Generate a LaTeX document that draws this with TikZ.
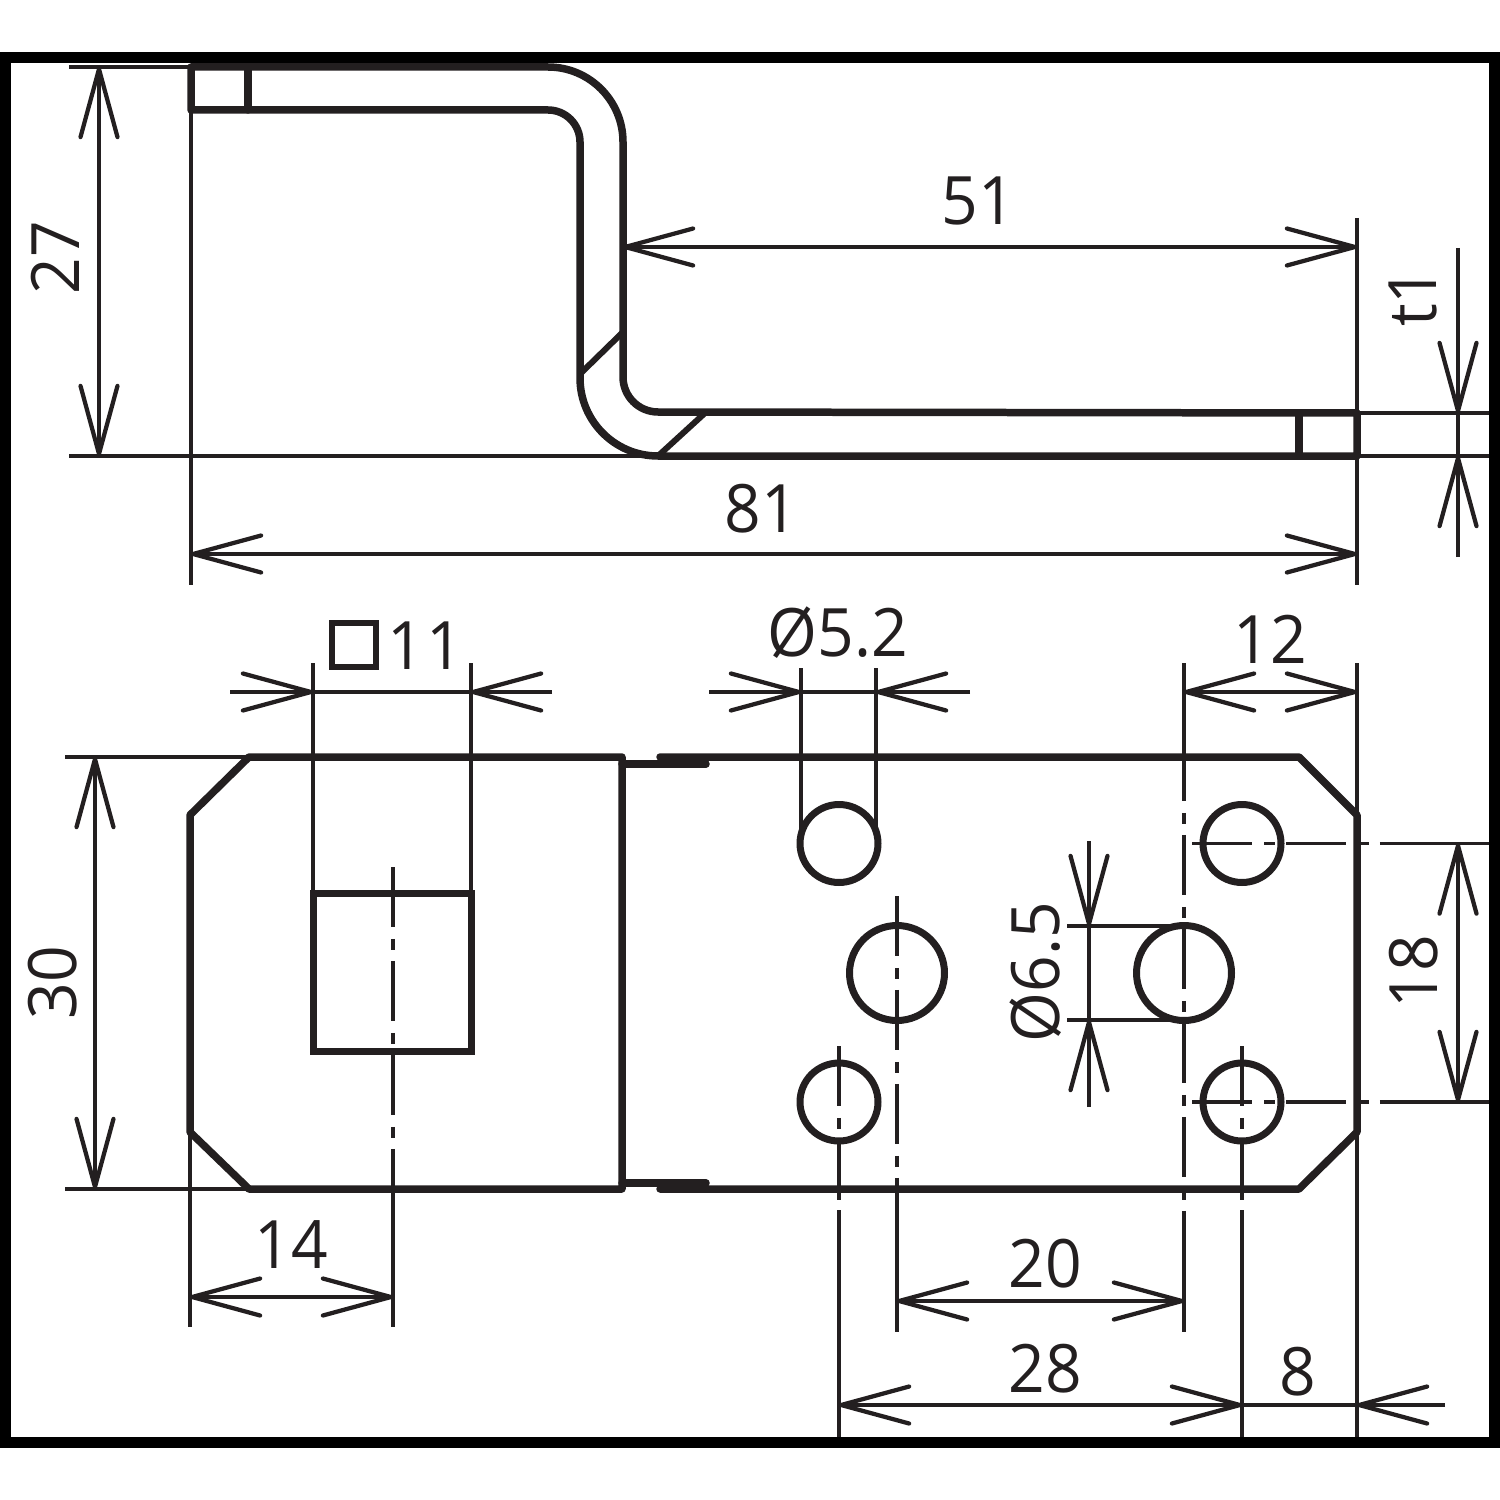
\documentclass[tikz,border=0pt]{standalone}
\usepackage{fontspec}
\setmainfont[FakeStretch=0.96]{Open Sans}
\usetikzlibrary{arrows.meta}
\definecolor{inkblack}{HTML}{231F20}
\tikzset{
  thick line/.style={inkblack, line width=0.15cm, line join=round, line cap=round},
  thin line/.style={inkblack, line width=0.075cm},
  center line/.style={inkblack, line width=0.075cm, dash pattern=on 1.2cm off 0.24cm on 0.22cm off 0.22cm},
  barb/.tip={Straight Barb[length=1.36cm, width=0.74cm, line width=0.085cm, round]},
  dim line/.style={thin line, barb-barb},
  dim label/.style={text=inkblack, font=\fontsize{38}{38}\selectfont, anchor=base, inner sep=0pt},
  dim vlabel/.style={dim label, rotate=90},
  hole/.style={circle, draw=inkblack, line width=0.14cm, inner sep=0pt, minimum size=1.56cm},
  big hole/.style={hole, minimum size=1.9cm},
}
\begin{document}
\begin{tikzpicture}[x=0.02cm, y=-0.02cm]
  \useasboundingbox (0, 0) rectangle (1500, 1500);
  \node (frame) [draw, line width=0.22cm, minimum width=29.78cm, minimum height=27.7cm, inner sep=0pt] at (750, 750) {};

  % side view
  \coordinate (s-tl) at (191, 67);
  \coordinate (s-bl) at (191, 110);
  \coordinate (s-tr) at (1357, 413);
  \coordinate (s-br) at (1357, 456);
  \draw[thick line] (s-tl) -- (548, 67) arc (270:360:75) -- (623, 377) arc (180:90:35) -- (s-tr) -- (s-br) -- (658, 456) arc (90:180:78) -- (580, 142) arc (0:-90:32) -- (s-bl) -- cycle;
  \draw[thick line] (248, 67) -- (248, 110);
  \draw[thick line] (1299, 413) -- (1299, 456);
  \draw[thick line, line width=0.12cm] (580, 374) -- (623, 332);
  \draw[thick line, line width=0.12cm] (658, 456) -- (705, 413);

  \draw[thin line] (69, 67) -- (s-tl);
  \draw[thin line] (69, 456) -- (658, 456);
  \draw[thin line] (s-bl) -- (191, 585);
  \draw[thin line] (1357, 218) -- (1357, 585);
  \draw[thin line] (s-tr) -- (1489, 413);
  \draw[thin line] (s-br) -- (1489, 456);

  \coordinate (d27-a) at (99, 67);
  \coordinate (d27-b) at (99, 456);
  \draw[dim line] (d27-a) -- (d27-b);
  \node (l27) [dim vlabel] at (79, 258) {27};
  \coordinate (d51-a) at (623, 247);
  \coordinate (d51-b) at (1357, 247);
  \draw[dim line] (d51-a) -- (d51-b);
  \node (l51) [dim label] at (978, 225) {51};
  \coordinate (d81-a) at (191, 554);
  \coordinate (d81-b) at (1357, 554);
  \draw[dim line] (d81-a) -- (d81-b);
  \node (l81) [dim label] at (761, 532) {81};
  \coordinate (t1-a) at (1458, 248);
  \coordinate (t1-b) at (1458, 413);
  \coordinate (t1-c) at (1458, 456);
  \coordinate (t1-d) at (1458, 557);
  \draw[thin line, -barb] (t1-a) -- (t1-b);
  \draw[thin line] (t1-b) -- (t1-c);
  \draw[thin line, -barb] (t1-d) -- (t1-c);
  \node (lt1) [dim vlabel] at (1436, 297) {t1};

  % front view
  \draw[thick line] (249, 757) -- (622, 757) -- (622, 1189) -- (249, 1189) -- (190, 1132) -- (190, 815) -- cycle;
  \draw[thick line] (622, 764) -- (706, 764);
  \draw[thick line] (622, 1183) -- (706, 1183);
  \draw[thick line] (660, 757) -- (1299, 757) -- (1357, 815) -- (1357, 1132) -- (1299, 1189) -- (660, 1189);
  \node (square) [draw=inkblack, line width=0.13cm, inner sep=0pt, minimum size=3.17cm] at (392.5, 972.5) {};
  \node (h1) [hole] at (839, 843.5) {};
  \node (h2) [hole] at (1242, 843.5) {};
  \node (h3) [hole] at (839, 1102) {};
  \node (h4) [hole] at (1242, 1102) {};
  \node (h5) [big hole] at (897, 973) {};
  \node (h6) [big hole] at (1184, 973) {};

  % center lines
  \draw[center line] (393, 867) -- (393, 1149);
  \draw[thin line] (393, 1149) -- (393, 1327);
  \draw[center line] (897, 896) -- (897, 1178);
  \draw[thin line] (897, 1178) -- (897, 1332);
  \draw[center line] (1184, 741) -- (1184, 1211);
  \draw[thin line] (1184, 663) -- (1184, 741);
  \draw[thin line] (1184, 1211) -- (1184, 1332);
  \draw[center line] (839, 1046) -- (839, 1140);
  \draw[thin line] (839, 1140) -- (839, 1200);
  \draw[thin line] (839, 1210) -- (839, 1437);
  \draw[center line] (1242, 1046) -- (1242, 1140);
  \draw[thin line] (1242, 1140) -- (1242, 1200);
  \draw[thin line] (1242, 1210) -- (1242, 1437);
  \draw[center line] (1192, 843.5) -- (1380, 843.5);
  \draw[thin line] (1380, 843.5) -- (1489, 843.5);
  \draw[center line] (1192, 1102) -- (1380, 1102);
  \draw[thin line] (1380, 1102) -- (1489, 1102);

  % extension lines
  \draw[thin line] (313, 663) -- (313, 893);
  \draw[thin line] (471, 663) -- (471, 893);
  \draw[thin line] (801, 668) -- (801, 835);
  \draw[thin line] (876, 668) -- (876, 835);
  \draw[thin line] (1357, 663) -- (1357, 815);
  \draw[thin line] (1357, 1132) -- (1357, 1437);
  \draw[thin line] (65, 757) -- (249, 757);
  \draw[thin line] (65, 1189) -- (249, 1189);
  \draw[thin line] (190, 1132) -- (190, 1327);
  \draw[thin line] (1067, 926) -- (1170, 926);
  \draw[thin line] (1067, 1020) -- (1170, 1020);

  \coordinate (d11-o1) at (230, 692);
  \coordinate (d11-a) at (313, 692);
  \coordinate (d11-b) at (471, 692);
  \coordinate (d11-o2) at (552, 692);
  \draw[thin line, -barb] (d11-o1) -- (d11-a);
  \draw[thin line] (d11-a) -- (d11-b);
  \draw[thin line, -barb] (d11-o2) -- (d11-b);
  \node (sym11) [draw=inkblack, line width=0.11cm, inner sep=0pt, minimum size=0.88cm] at (354, 645) {};
  \node (l11) [dim label] at (425, 669) {1\kern1.5pt 1};

  \coordinate (d52-o1) at (709, 692);
  \coordinate (d52-a) at (801, 692);
  \coordinate (d52-b) at (876, 692);
  \coordinate (d52-o2) at (970, 692);
  \draw[thin line, -barb] (d52-o1) -- (d52-a);
  \draw[thin line] (d52-a) -- (d52-b);
  \draw[thin line, -barb] (d52-o2) -- (d52-b);
  \node (l52) [dim label] at (838, 656) {Ø5.2};

  \coordinate (d12-a) at (1184, 692);
  \coordinate (d12-b) at (1357, 692);
  \draw[dim line] (d12-a) -- (d12-b);
  \node (l12) [dim label] at (1270, 663) {12};

  \coordinate (d30-a) at (95, 757);
  \coordinate (d30-b) at (95, 1189);
  \draw[dim line] (d30-a) -- (d30-b);
  \node (l30) [dim vlabel] at (76, 983) {30};

  \coordinate (d18-a) at (1458, 843.5);
  \coordinate (d18-b) at (1458, 1102);
  \draw[dim line] (d18-a) -- (d18-b);
  \node (l18) [dim vlabel] at (1437, 972) {18};

  \coordinate (d65-o1) at (1089, 841);
  \coordinate (d65-a) at (1089, 926);
  \coordinate (d65-b) at (1089, 1020);
  \coordinate (d65-o2) at (1089, 1107);
  \draw[thin line, -barb] (d65-o1) -- (d65-a);
  \draw[thin line] (d65-a) -- (d65-b);
  \draw[thin line, -barb] (d65-o2) -- (d65-b);
  \node (l65) [dim vlabel] at (1059, 972) {Ø6.5};

  \coordinate (d14-a) at (190, 1297);
  \coordinate (d14-b) at (393, 1297);
  \draw[dim line] (d14-a) -- (d14-b);
  \node (l14) [dim label] at (291, 1268) {14};

  \coordinate (d20-a) at (897, 1301);
  \coordinate (d20-b) at (1184, 1301);
  \draw[dim line] (d20-a) -- (d20-b);
  \node (l20) [dim label] at (1045, 1287) {20};

  \coordinate (d28-a) at (839, 1405);
  \coordinate (d28-b) at (1242, 1405);
  \draw[dim line] (d28-a) -- (d28-b);
  \node (l28) [dim label] at (1045, 1392) {28};

  \coordinate (d8-o) at (1445, 1405);
  \coordinate (d8-a) at (1357, 1405);
  \draw[thin line] (d28-b) -- (d8-a);
  \draw[thin line, -barb] (d8-o) -- (d8-a);
  \node (l8) [dim label] at (1298, 1395) {8};
\end{tikzpicture}
\end{document}
